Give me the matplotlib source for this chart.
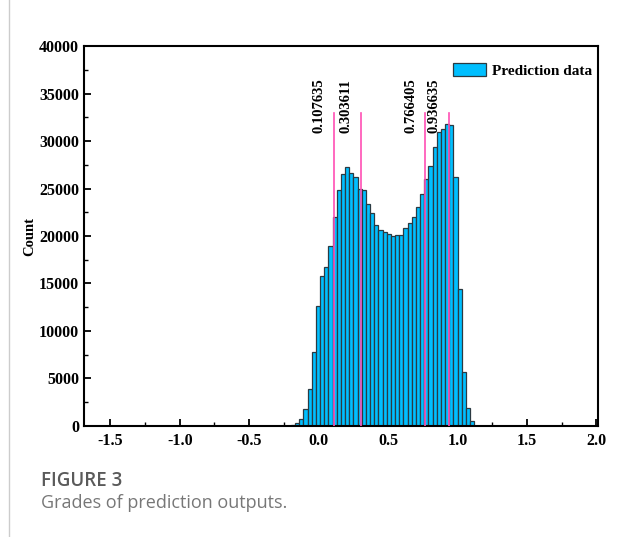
import matplotlib

matplotlib.use("Agg")
import matplotlib.pyplot as plt
from matplotlib.lines import Line2D
from matplotlib.ticker import MultipleLocator
import numpy as np

# histogram of prediction outputs (counts)
bin_start = -0.2
bin_width = 0.03
counts = [
    100, 300, 750, 1750, 3850, 7750, 12600, 15800, 16700, 19000,
    22000, 24900, 26500, 27300, 26600, 26250, 25000, 24850, 23350, 22400,
    21200, 20600, 20450, 20200, 20000, 20100, 20150, 20800, 21400, 22000,
    23100, 24400, 26000, 27400, 29400, 31000, 31300, 31800, 31700, 26250,
    14400, 5650, 1860, 490,
]
grade_cuts = [0.107635, 0.303611, 0.766405, 0.936635]
cut_labels = ["0.107635", "0.303611", "0.766405", "0.936635"]
cut_top = 33000

serif = ["Liberation Serif", "DejaVu Serif"]
plt.rcParams["font.family"] = serif
plt.rcParams["font.weight"] = "bold"
plt.rcParams["axes.unicode_minus"] = False

fig = plt.figure(figsize=(6.17, 5.37), dpi=100)
ax = fig.add_axes([0.136, 0.207, 0.833, 0.707])

lefts = bin_start + bin_width * np.arange(len(counts))
ax.bar(lefts, counts, width=bin_width, align="edge", color="#00BFFF",
       edgecolor="#2b3a42", linewidth=0.9, label="Prediction data", zorder=2)

for cut, lab in zip(grade_cuts, cut_labels):
    ax.plot([cut, cut], [0, cut_top], color="#FF4FB4", linewidth=1.2, zorder=3)
    ax.text(cut - 0.105, 30900, lab, rotation=90, ha="center", va="bottom",
            fontsize=10.5, fontweight="bold")

ax.set_xlim(-1.69, 2.01)
ax.set_ylim(0, 40000)
ax.xaxis.set_major_locator(MultipleLocator(0.5))
ax.xaxis.set_minor_locator(MultipleLocator(0.25))
ax.yaxis.set_major_locator(MultipleLocator(5000))
ax.yaxis.set_minor_locator(MultipleLocator(2500))
ax.xaxis.set_major_formatter(plt.FuncFormatter(lambda v, p: f"{v:.1f}"))
ax.tick_params(which="both", direction="in", top=False, right=False, labelsize=11.5)
ax.tick_params(which="major", length=5, width=1.3)
ax.tick_params(axis="x", which="major", pad=5)
ax.tick_params(which="minor", length=3, width=1.0)
for s in ax.spines.values():
    s.set_linewidth(1.5)
ax.set_ylabel("Count", fontsize=10.5, fontweight="bold", labelpad=2)

ax.legend(loc="upper right", bbox_to_anchor=(0.988, 0.955), frameon=False, fontsize=11,
          handlelength=2.2, handleheight=0.95, borderaxespad=0, borderpad=0,
          handletextpad=0.35)

# caption block
fig.add_artist(Line2D([0.015, 0.015], [0.0, 1.0], color="#cccccc", linewidth=1.0))
fig.text(0.067, 0.095, "FIGURE 3", family=["Open Sans", "DejaVu Sans"], va="baseline",
         fontsize=13.5, fontweight="semibold", color="#5a5a5a")
fig.text(0.067, 0.054, "Grades of prediction outputs.", family=["Open Sans", "DejaVu Sans"],
         va="baseline", fontsize=13, fontweight="normal", color="#777777")

fig.savefig("out.png", dpi=100)
